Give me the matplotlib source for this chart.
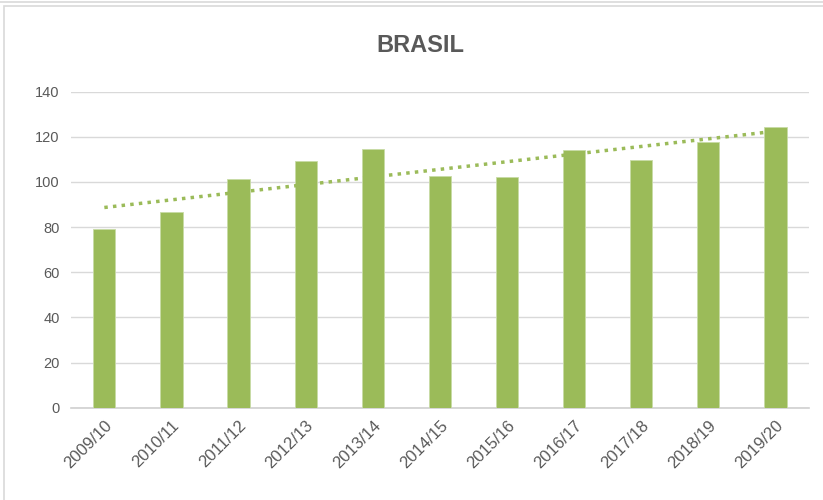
import numpy as np
import matplotlib.pyplot as plt
from matplotlib.patches import Rectangle

seasons = ['2009/10', '2010/11', '2011/12', '2012/13', '2013/14', '2014/15',
           '2015/16', '2016/17', '2017/18', '2018/19', '2019/20']
values = [79.0, 86.9, 101.3, 109.2, 114.5, 102.8, 102.1, 114.3, 109.7, 117.6, 124.2]
yticks = [0, 20, 40, 60, 80, 100, 120, 140]

green = '#9BBB59'
grey_text = '#595959'

plt.rcParams['font.family'] = ['Liberation Sans', 'DejaVu Sans']

fig = plt.figure(figsize=(8.23, 5.0), dpi=100)
ax = fig.add_axes([0.086, 0.1846, 0.897, 0.632])

x = np.arange(len(seasons))
ax.bar(x, values, width=0.33, color=green, edgecolor='#c8dba6', linewidth=0.6, zorder=3)

# linear trendline
k, b = np.polyfit(x, values, 1)
ax.plot(x, k * x + b, linestyle=(0, (1, 1.5)), color=green, linewidth=2.5, zorder=4)

ax.set_xlim(-0.5, len(seasons) - 0.5)
ax.set_ylim(0, 140)
ax.set_yticks(yticks)
ax.set_xticks(x)
ax.set_xticklabels(seasons, rotation=45, ha='right', rotation_mode='anchor')
ax.tick_params(axis='both', length=0, colors=grey_text)
ax.tick_params(axis='y', pad=8, labelsize=10.5)
ax.tick_params(axis='x', pad=7, labelsize=12)
ax.grid(axis='y', color='#D9D9D9', linewidth=1, zorder=0)
for s in ['left', 'right', 'top']:
    ax.spines[s].set_visible(False)
ax.spines['bottom'].set_color('#D0D0D0')
ax.spines['bottom'].set_linewidth(1.2)

fig.text(420 / 823, 1 - 46 / 500, 'BRASIL', ha='center', va='center',
         fontsize=17, fontweight='bold', color=grey_text)

# chart frame
fig.patches.append(Rectangle((4 / 823, -0.01), 1.0, 1 - 6 / 500 + 0.01, transform=fig.transFigure,
                             fill=False, edgecolor='#D9D9D9', linewidth=1.2))
fig.lines.append(plt.Line2D([0, 1], [1 - 1.5 / 500, 1 - 1.5 / 500], transform=fig.transFigure,
                            color='#D9D9D9', linewidth=1.2))

fig.savefig('out.png', dpi=100)
